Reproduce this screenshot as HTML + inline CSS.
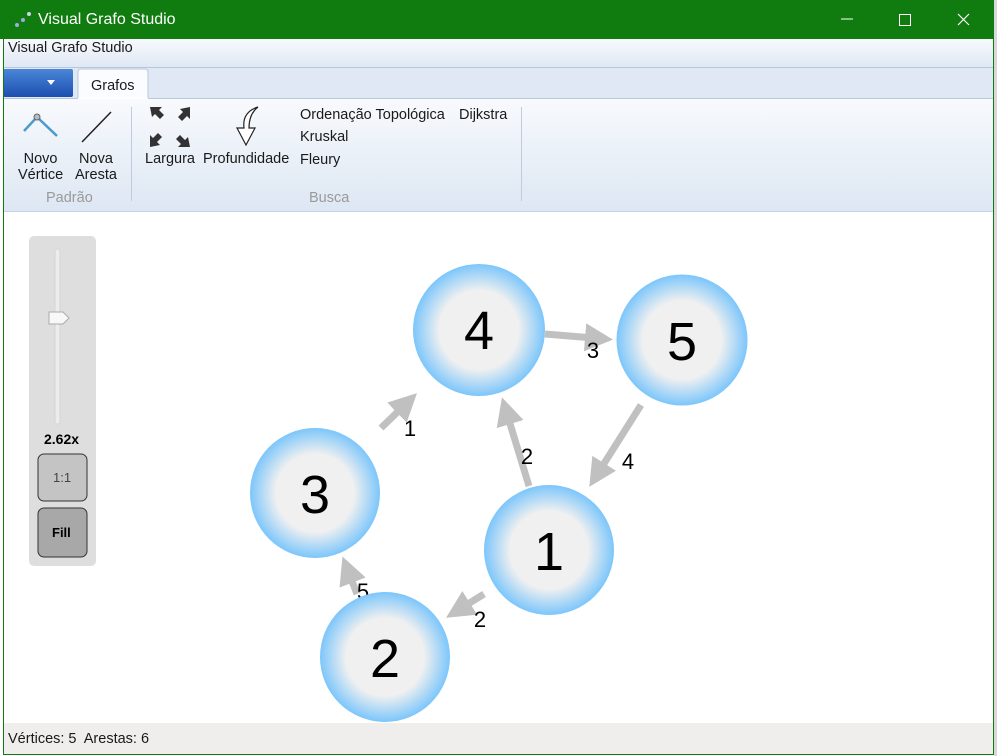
<!DOCTYPE html>
<html><head><meta charset="utf-8"><style>
html,body{margin:0;padding:0;width:997px;height:756px;overflow:hidden;background:#fff;font-family:"Liberation Sans",sans-serif}
.t{position:absolute;white-space:nowrap;font-size:14.5px;color:#1a1a1a}
</style></head><body>
<svg width="997" height="756" style="position:absolute;left:0;top:0" xmlns="http://www.w3.org/2000/svg">
<defs>
<radialGradient id="g" cx="50%" cy="50%" r="50%">
<stop offset="0" stop-color="#f0f0f0"/><stop offset="0.6" stop-color="#f0f0f0"/><stop offset="1" stop-color="#7cc6fb"/>
</radialGradient>
<linearGradient id="mb" x1="0" y1="0" x2="0" y2="1"><stop offset="0" stop-color="#f7f9fc"/><stop offset="1" stop-color="#e0e8f4"/></linearGradient>
<linearGradient id="rb" x1="0" y1="0" x2="0" y2="1"><stop offset="0" stop-color="#f8fafd"/><stop offset="1" stop-color="#dde7f3"/></linearGradient>
<linearGradient id="bb" x1="0" y1="0" x2="0" y2="1"><stop offset="0" stop-color="#4a86d8"/><stop offset="1" stop-color="#1c4fb0"/></linearGradient>
<marker id="a" markerWidth="4" markerHeight="4" refX="3" refY="2" orient="auto" markerUnits="strokeWidth"><path d="M0,0 L4,2 L0,4 z" fill="#c0c0c0"/></marker>
</defs>
<rect x="0" y="0" width="997" height="756" fill="#fff"/>
<rect x="994" y="0" width="3" height="756" fill="#d8d8d8"/>
<rect x="0" y="0" width="994" height="39" fill="#107c10"/>
<circle cx="17" cy="25" r="2" fill="#9aaee0"/><circle cx="23" cy="20" r="2" fill="#9aaee0"/><circle cx="29" cy="14" r="2" fill="#c8d4f0"/>
<path d="M841,19 H853" stroke="#fff" stroke-width="1"/>
<rect x="899.5" y="14.5" width="11" height="11" fill="none" stroke="#fff"/>
<path d="M958,14 L969,25 M969,14 L958,25" stroke="#fff" stroke-width="1.2"/>
<rect x="3" y="39" width="991" height="28" fill="url(#mb)"/>
<line x1="3" y1="67.5" x2="994" y2="67.5" stroke="#b8c8dc"/>
<rect x="3" y="68" width="991" height="30" fill="#dfe8f4"/>
<rect x="3" y="69" width="70" height="28" rx="2" fill="url(#bb)"/>
<path d="M47,80 L55,80 L51,85 z" fill="#fff"/>
<path d="M78,98 V72 Q78,69 81,69 H145 Q148,69 148,72 V98" fill="#fafcff" stroke="#b8c8dc"/>
<line x1="3" y1="98.5" x2="78" y2="98.5" stroke="#b8c8dc"/><line x1="148" y1="98.5" x2="994" y2="98.5" stroke="#b8c8dc"/>
<rect x="3" y="99" width="991" height="112" fill="url(#rb)"/>
<line x1="3" y1="211.5" x2="994" y2="211.5" stroke="#c8d4e2"/>
<line x1="131.5" y1="107" x2="131.5" y2="201" stroke="#c0ccdc"/>
<line x1="521.5" y1="107" x2="521.5" y2="201" stroke="#c0ccdc"/>
<path d="M24,131 L37,117 L57,136" fill="none" stroke="#4a9ad0" stroke-width="2.5"/><circle cx="37" cy="117" r="3" fill="#bbb" stroke="#666"/>
<path d="M82,142 L111,112" stroke="#222" stroke-width="1.5"/>
<g fill="#333"><path d="M150,107 l12,0 -3,3 5,5 -4,4 -5,-5 -3,3z"/><path d="M190,107 l0,12 -3,-3 -5,5 -4,-4 5,-5 -3,-3z"/><path d="M150,147 l0,-12 3,3 5,-5 4,4 -5,5 3,3z"/><path d="M190,147 l-12,0 3,-3 -5,-5 4,-4 5,5 3,-3z"/></g>
<path d="M258,107 Q242,112 244,128 L237,128 L246,145 L255,128 L249,128 Q249,114 258,107" fill="#fff" stroke="#222" stroke-width="1.2"/>
<rect x="3" y="212" width="991" height="511" fill="#fff"/>
<rect x="29" y="236" width="67" height="330" rx="5" fill="#dedede"/>
<rect x="55" y="249" width="5" height="175" rx="2" fill="#ececec" stroke="#d4d4d4"/>
<path d="M49,312 H63 L69,318 L63,324 H49 z" fill="#f8f8f8" stroke="#aaa"/>
<rect x="38" y="454" width="49" height="47" rx="6" fill="#c4c4c4" stroke="#333"/>
<rect x="38" y="508" width="49" height="49" rx="6" fill="#a8a8a8" stroke="#333"/>
<rect x="3" y="723" width="991" height="31" fill="#f0eeed"/>
<line x1="3.5" y1="39" x2="3.5" y2="755" stroke="#107c10"/>
<line x1="993.5" y1="39" x2="993.5" y2="755" stroke="#107c10"/>
<line x1="3" y1="754.5" x2="994" y2="754.5" stroke="#107c10"/>
<g stroke="#c0c0c0" stroke-width="7" fill="none" marker-end="url(#a)">
<line x1="381" y1="428" x2="412" y2="398"/>
<line x1="529" y1="486" x2="504" y2="404"/>
<line x1="641" y1="405" x2="593" y2="481"/>
<line x1="484" y1="594" x2="452" y2="614"/>
<line x1="357" y1="594" x2="345" y2="563"/>
<line x1="545" y1="334" x2="606" y2="339"/>
</g>
<g font-family="Liberation Sans,sans-serif" font-size="22" text-anchor="middle" fill="#000">
<text x="410" y="436">1</text><text x="527" y="464">2</text><text x="628" y="469">4</text><text x="593" y="358">3</text><text x="363" y="599">5</text><text x="480" y="627">2</text>
</g>
<g fill="url(#g)">
<circle cx="479" cy="330" r="66"/><circle cx="682" cy="340" r="65.5"/><circle cx="315" cy="493" r="65"/><circle cx="549" cy="550" r="65"/><circle cx="385" cy="657" r="65"/>
</g>
<g font-family="Liberation Sans,sans-serif" font-size="54" text-anchor="middle" fill="#000">
<text x="479" y="349">4</text><text x="682" y="360">5</text><text x="315" y="513">3</text><text x="549" y="570">1</text><text x="385" y="677">2</text>
</g>
</svg>
<div class="t" style="left:38px;top:11px;font-size:16px;color:#fff">Visual Grafo Studio</div>
<div class="t" style="left:8px;top:40px">Visual Grafo Studio</div>
<div class="t" style="left:91px;top:78px">Grafos</div>
<div class="t" style="left:18px;top:151px;text-align:center;line-height:16px">Novo<br>Vértice</div>
<div class="t" style="left:75px;top:151px;text-align:center;line-height:16px">Nova<br>Aresta</div>
<div class="t" style="left:46px;top:190px;color:#9a9a9a">Padrão</div>
<div class="t" style="left:145px;top:151px">Largura</div>
<div class="t" style="left:203px;top:151px">Profundidade</div>
<div class="t" style="left:300px;top:107px">Ordenação Topológica</div>
<div class="t" style="left:459px;top:107px">Dijkstra</div>
<div class="t" style="left:300px;top:129px">Kruskal</div>
<div class="t" style="left:300px;top:152px">Fleury</div>
<div class="t" style="left:309px;top:190px;color:#9a9a9a">Busca</div>
<div class="t" style="left:44px;top:431px;font-weight:bold;font-size:14px;color:#000">2.62x</div>
<div class="t" style="left:53px;top:470px;font-size:13px;color:#444">1:1</div>
<div class="t" style="left:52px;top:525px;font-size:13px;font-weight:bold;color:#000">Fill</div>
<div class="t" style="left:8px;top:731px">Vértices: 5&nbsp; Arestas: 6</div>
</body></html>
